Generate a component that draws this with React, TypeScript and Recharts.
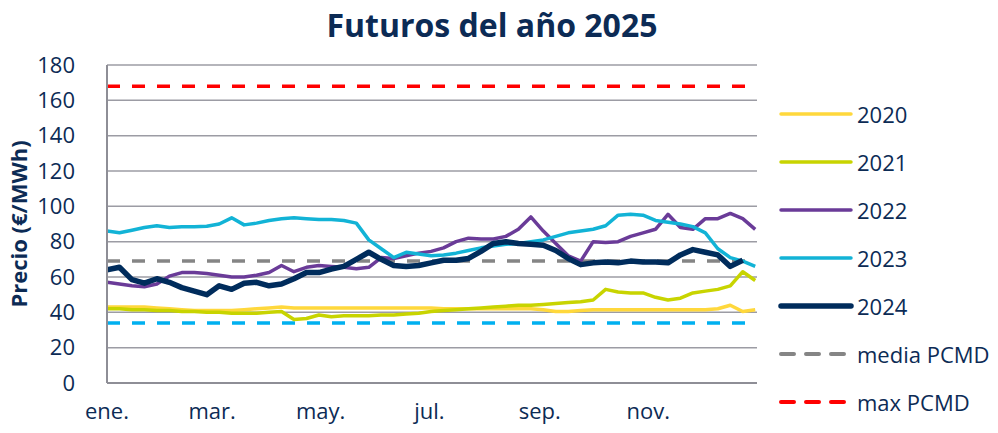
import React from "react";
import {
  CartesianGrid,
  Line,
  LineChart,
  ReferenceLine,
  XAxis,
  YAxis,
} from "recharts";

// day of year for each weekly point
const days = [
  0, 7, 14, 21, 28, 35, 42, 49, 56, 63, 70, 77, 84, 91, 98, 105, 112, 119, 126,
  133, 140, 147, 154, 161, 168, 175, 182, 189, 196, 203, 210, 217, 224, 231,
  238, 245, 252, 259, 266, 273, 280, 287, 294, 301, 308, 315, 322, 329, 336,
  343, 350, 357, 364,
];

const monthTicks = [0, 59, 120, 181, 243, 304];
const monthLabels = ["ene.", "mar.", "may.", "jul.", "sep.", "nov."];
const priceTicks = [0, 20, 40, 60, 80, 100, 120, 140, 160, 180];

const s2020 = [
  43, 43, 43, 43, 42.5, 42, 41.5, 41, 41, 41, 41, 41.5, 42, 42.5, 43, 42.5,
  42.5, 42.5, 42.5, 42.5, 42.5, 42.5, 42.5, 42.5, 42.5, 42.5, 42.5, 42, 42, 42,
  42, 42, 42, 42, 42, 41.5, 40.5, 40.5, 41, 41.5, 41.5, 41.5, 41.5, 41.5, 41.5,
  41.5, 41.5, 41.5, 41.5, 42, 44, 40.5, 41.5,
];

const s2021 = [
  42, 42, 41.5, 41.5, 41, 41, 40.5, 40.5, 40, 40, 39.5, 39.5, 39.5, 40, 40.5,
  36, 36.5, 38.5, 37.5, 38, 38, 38, 38.5, 38.5, 39, 39.5, 40.5, 41, 41.5, 42,
  42.5, 43, 43.5, 44, 44, 44.5, 45, 45.5, 46, 47, 53, 51.5, 51, 51, 48.5, 47,
  48, 51, 52, 53, 55, 63, 58,
];

const s2022 = [
  57, 56, 55, 54.5, 56, 60.5, 62.5, 62.5, 62, 61, 60, 60, 61, 62.5, 66.5, 63,
  65.5, 66.5, 66, 65.5, 64.7, 65.5, 71, 70.5, 72, 73.5, 74.5, 76.5, 80, 82,
  81.5, 81.5, 83, 87, 94, 86, 79, 72, 69, 80, 79.5, 80, 83, 85, 87, 95.5, 88,
  87, 93, 93, 96, 93, 87,
];

const s2023 = [
  86, 85, 86.5, 88, 89, 88, 88.5, 88.5, 88.7, 90, 93.5, 89.5, 90.5, 92, 93,
  93.5, 93, 92.5, 92.5, 92, 90.5, 81, 76, 71, 74, 73, 72, 72.5, 73.5, 75, 76.5,
  77.5, 78.5, 79, 80, 81, 83, 85, 86, 87, 89, 95, 95.5, 95, 92, 91, 90, 88.5,
  85, 76, 71, 69, 66,
];

const s2024 = [
  64, 65.5, 58.5, 56.5, 59, 57, 54, 52, 50, 55, 53, 56.5, 57, 55, 56, 59, 62.5,
  62.5, 64.5, 66, 70, 74, 70, 66.5, 66, 66.5, 68, 69.5, 69.5, 70.5, 74.5, 79,
  80, 79, 78.5, 78, 75, 70.5, 67, 68, 68.5, 68, 69, 68.5, 68.5, 68, 72.5, 75.5,
  74, 72.5, 66, 69.5, null,
];

const mediaPCMD = 69;
const maxPCMD = 168;
const minPCMD = 34;

const NAVY = "#0c2b55";
const FONT = "'Open Sans', sans-serif";

const series = [
  { key: "y2020", name: "2020", color: "#ffd83c", width: 3.5 },
  { key: "y2021", name: "2021", color: "#c8d400", width: 3.5 },
  { key: "y2022", name: "2022", color: "#6a3b98", width: 3.5 },
  { key: "y2023", name: "2023", color: "#12b3d6", width: 3.5 },
  { key: "y2024", name: "2024", color: "#002c5c", width: 5.5 },
];

const data = days.map((day, i) => ({
  day,
  y2020: s2020[i],
  y2021: s2021[i],
  y2022: s2022[i],
  y2023: s2023[i],
  y2024: s2024[i],
}));

const legendItems = [
  ...series.map((s) => ({ name: s.name, color: s.color, width: s.width, dash: undefined as string | undefined })),
  { name: "media PCMD", color: "#858585", width: 4, dash: "13 12" },
  { name: "max PCMD", color: "#ff0000", width: 4, dash: "13 12" },
];

function Legend() {
  return (
    <div style={{ position: "absolute", left: 778, top: 90 }}>
      {legendItems.map((it) => (
        <div
          key={it.name}
          style={{ display: "flex", alignItems: "center", height: 48 }}
        >
          <svg width={76} height={12}>
            <line
              x1={3}
              x2={73}
              y1={6}
              y2={6}
              stroke={it.color}
              strokeWidth={it.width}
              strokeDasharray={it.dash}
              strokeLinecap="round"
            />
          </svg>
          <span
            style={{
              fontFamily: FONT,
              fontSize: 22,
              color: NAVY,
              marginLeft: 3,
              lineHeight: "24px",
            }}
          >
            {it.name}
          </span>
        </div>
      ))}
    </div>
  );
}

export default function App() {
  return (
    <div
      style={{
        position: "absolute",
        left: 0,
        top: 0,
        width: 998,
        height: 433,
        background: "#fff",
      }}
    >
      <div
        style={{
          position: "absolute",
          left: 0,
          top: 3,
          width: 984,
          textAlign: "center",
          fontFamily: FONT,
          fontWeight: 700,
          fontSize: 32,
          color: NAVY,
        }}
      >
        Futuros del año 2025
      </div>
      <div
        style={{
          position: "absolute",
          left: 18,
          top: 224,
          transform: "translate(-50%, -50%) rotate(-90deg)",
          whiteSpace: "nowrap",
          fontFamily: FONT,
          fontWeight: 700,
          fontSize: 22,
          color: NAVY,
        }}
      >
        Precio (€/MWh)
      </div>
      <LineChart
        width={998}
        height={433}
        data={data}
        margin={{ top: 65, right: 241, bottom: 0, left: 47 }}
        style={{ position: "absolute", left: 0, top: 0 }}
      >
        <CartesianGrid
          vertical={false}
          stroke="#9c9ca4"
          strokeWidth={1.5}
        />
        <XAxis
          type="number"
          dataKey="day"
          domain={[0, 365]}
          ticks={monthTicks}
          tickFormatter={(v) => monthLabels[monthTicks.indexOf(v)] ?? ""}
          axisLine={{ stroke: "#8e8e96", strokeWidth: 2 }}
          tickLine={false}
          tickMargin={14}
          height={50}
          tick={{ fontFamily: FONT, fontSize: 22, fill: NAVY }}
          allowDataOverflow
        />
        <YAxis
          type="number"
          domain={[0, 180]}
          ticks={priceTicks}
          width={60}
          axisLine={{ stroke: "#8e8e96", strokeWidth: 2 }}
          tickLine={false}
          tickMargin={26}
          tick={{ fontFamily: FONT, fontSize: 22, fill: NAVY }}
          allowDataOverflow
        />
        <ReferenceLine
          y={maxPCMD}
          stroke="#ff0000"
          strokeWidth={3.5}
          strokeDasharray="13 12"
        />
        <ReferenceLine
          y={minPCMD}
          stroke="#00b0f0"
          strokeWidth={3.5}
          strokeDasharray="13 12"
        />
        <ReferenceLine
          y={mediaPCMD}
          stroke="#858585"
          strokeWidth={3.5}
          strokeDasharray="13 12"
        />
        {series.map((s) => (
          <Line
            key={s.key}
            dataKey={s.key}
            name={s.name}
            stroke={s.color}
            strokeWidth={s.width}
            dot={false}
            activeDot={false}
            type="linear"
            strokeLinejoin="round"
            isAnimationActive={false}
          />
        ))}
      </LineChart>
      <Legend />
    </div>
  );
}
